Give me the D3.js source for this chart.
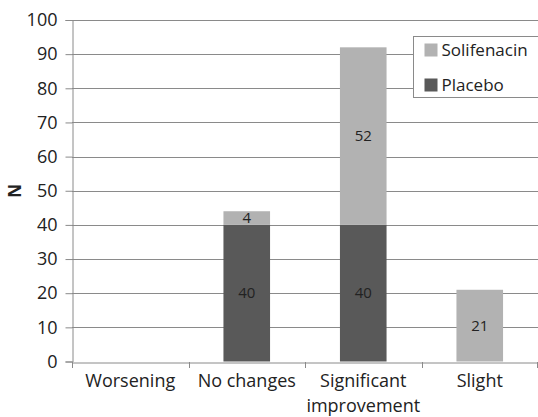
<!DOCTYPE html>
<html><head><meta charset="utf-8">
<script src="https://cdn.jsdelivr.net/npm/d3@7"></script>
<style>body{margin:0;background:#fff}svg{display:block}text{font-family:"Open Sans",sans-serif}</style>
</head><body><div id="c"></div>
<script>
const categories = ["Worsening", "No changes", "Significant improvement", "Slight"];
const placebo = [0, 40, 40, 0];
const solifenacin = [0, 4, 52, 21];
const seriesNames = ["Placebo", "Solifenacin"];
const yTicks = [0,10,20,30,40,50,60,70,80,90,100];

const W = 538, H = 417;
const m = {left:72, right:0, top:20, bottom:55};
const svg = d3.select("#c").append("svg").attr("width", W).attr("height", H);
const x = d3.scaleBand().domain(categories).range([m.left, W - m.right]).paddingInner(0.6).paddingOuter(0.3);
const xb = d3.scaleBand().domain(categories).range([m.left, W - m.right]);
const y = d3.scaleLinear().domain([0,100]).range([H - m.bottom - 0.5, m.top]);

const colors = {Placebo:"#595959", Solifenacin:"#b2b2b2"};
const FONT = '"Open Sans",sans-serif';

// gridlines
svg.append("g").selectAll("line").data(yTicks.filter(d=>d>0)).join("line")
  .attr("x1", m.left).attr("x2", W).attr("y1", d=>Math.round(y(d))+0.5).attr("y2", d=>Math.round(y(d))+0.5)
  .attr("stroke", "#8a8a8a").attr("stroke-width", 1);

// stacked data
const rows = categories.map((c,i)=>({cat:c, Placebo:placebo[i], Solifenacin:solifenacin[i]}));
const stack = d3.stack().keys(seriesNames)(rows);
const g = svg.append("g");
stack.forEach(s => {
  g.selectAll(null).data(s).join("rect")
    .attr("x", d=>x(d.data.cat)).attr("width", x.bandwidth())
    .attr("y", d=>y(d[1])).attr("height", d=>y(d[0]) - y(d[1]))
    .attr("fill", colors[s.key]);
  g.selectAll(null).data(s.filter(d=>d[1]-d[0]>0)).join("text")
    .attr("x", d=>x(d.data.cat)+x.bandwidth()/2).attr("y", d=>(y(d[0])+y(d[1]))/2)
    .attr("dy", "0.35em").attr("text-anchor","middle").attr("font-size", 15).attr("fill", "#222")
    .text(d=>d[1]-d[0]);
});

// y axis
const ya = svg.append("g").attr("transform", `translate(${m.left+0.5},0)`)
  .call(d3.axisLeft(y).tickValues(yTicks).tickSize(7).tickPadding(8));
ya.select(".domain").attr("stroke", "#8a8a8a");
ya.selectAll(".tick line").attr("stroke", "#8a8a8a");
ya.selectAll("text").attr("font-size", 18).attr("fill", "#222").style("font-family", FONT);

// x axis
const xa = svg.append("g").attr("transform", `translate(0,${Math.round(y(0))+0.5})`)
  .call(d3.axisBottom(xb).tickSize(0).tickPadding(12));
xa.select(".domain").attr("stroke", "#8a8a8a");
xa.selectAll("text").attr("font-size", 18).attr("fill", "#222").style("font-family", FONT)
  .each(function(d){
    const t = d3.select(this); const words = d.split(" ");
    if (d === "Significant improvement") {
      t.text(null);
      t.append("tspan").attr("x",0).text(words[0]);
      t.append("tspan").attr("x",0).attr("dy","1.35em").text(words.slice(1).join(" "));
    }
  });
// category separator ticks
svg.append("g").selectAll("line").data(categories.concat(["end"])).join("line")
  .attr("x1", (d,i)=> i<categories.length ? Math.round(xb(d))+0.5 : W-0.5)
  .attr("x2", (d,i)=> i<categories.length ? Math.round(xb(d))+0.5 : W-0.5)
  .attr("y1", Math.round(y(0))).attr("y2", Math.round(y(0))+6).attr("stroke","#8a8a8a");

// y label
svg.append("text").attr("transform", `translate(15,${y(50)}) rotate(-90)`)
  .attr("text-anchor","middle").attr("dy","0.35em").attr("font-size", 17).attr("font-weight","bold").attr("fill","#222").text("N");

// legend
const lg = svg.append("g").attr("transform","translate(413.5,36.5)");
lg.append("rect").attr("width", 126).attr("height", 61).attr("fill","#fff").attr("stroke","#8a8a8a");
["Solifenacin","Placebo"].forEach((k,i)=>{
  lg.append("rect").attr("x", 11).attr("y", 7 + i*35).attr("width", 13).attr("height", 13).attr("fill", colors[k]);
  lg.append("text").attr("x", 28).attr("y", 14 + i*35).attr("dy","0.35em").attr("font-size", 17).attr("fill","#222").text(k);
});
</script></body></html>
